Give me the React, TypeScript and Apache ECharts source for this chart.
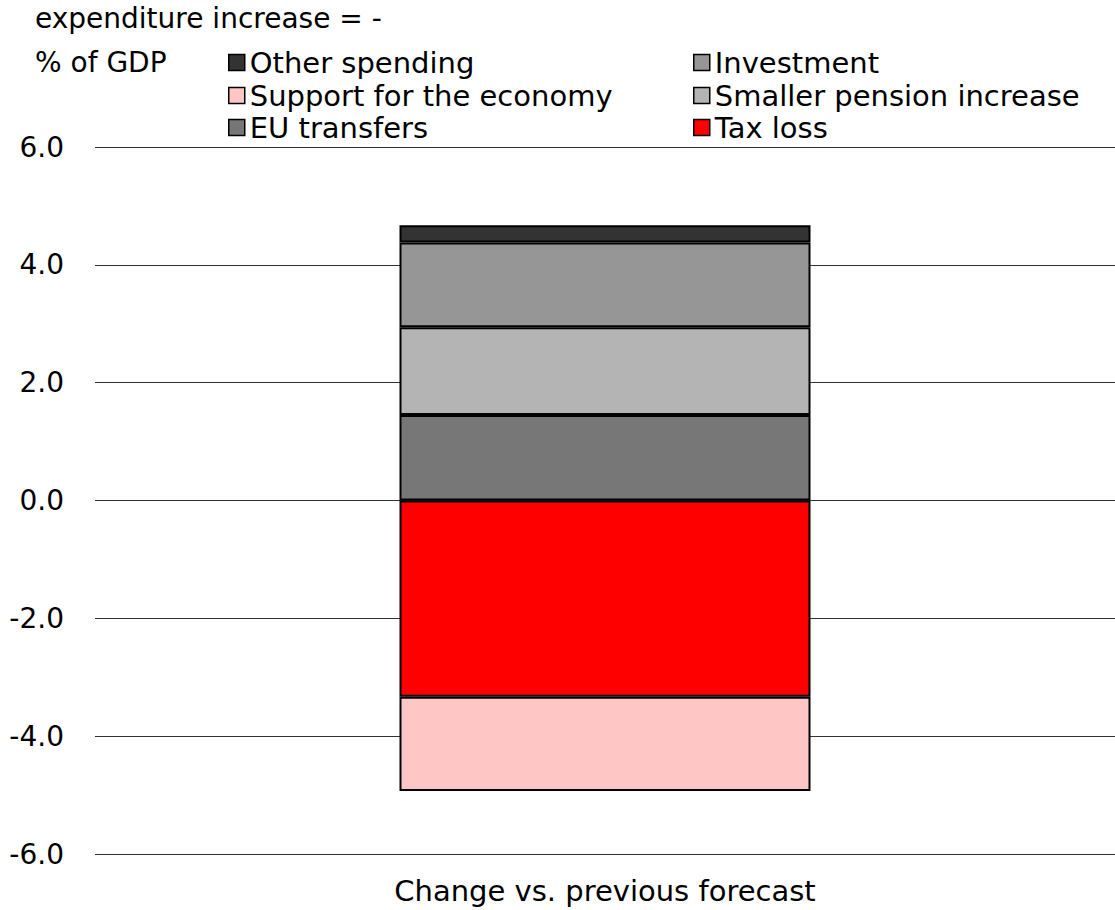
import React, { useEffect, useRef } from "react";
import * as echarts from "echarts";

const categories = ["Change vs. previous forecast"];
const euTransfers = [1.45];
const smallerPension = [1.49];
const investment = [1.44];
const otherSpending = [0.29];
const taxLoss = [-3.33];
const supportEconomy = [-1.6];
const yTicks = { min: -6, max: 6, interval: 2 };

const FONT = "DejaVu Sans";
const FS = 28;
const FS_L = 29;

export default function App() {
  const ref = useRef<HTMLDivElement>(null);
  useEffect(() => {
    if (!ref.current) return;
    const chart = echarts.init(ref.current, undefined, { renderer: "svg" });
    const barStyle = (color: string) => ({
      color,
      borderColor: "#000",
      borderWidth: 2,
    });
    const mk = (name: string, data: number[], color: string) => ({
      name,
      type: "bar",
      stack: "total",
      data,
      barWidth: 411,
      itemStyle: barStyle(color),
      emphasis: { disabled: true },
    });
    const legendItem = (name: string, left: number, cy: number) => ({
      data: [name],
      left,
      top: cy - 14,
      padding: 0,
      itemWidth: 16,
      itemHeight: 16,
      icon: "rect",
      itemStyle: { borderColor: "#000", borderWidth: 1.5 },
      textStyle: { fontFamily: FONT, fontSize: FS_L, color: "#000", lineHeight: 28 },
      selectedMode: false,
    });
    chart.setOption({
      animation: false,
      grid: { left: 95, right: -4, top: 147, bottom: 56, containLabel: false },
      legend: [
        legendItem("Other spending", 228, 62),
        legendItem("Investment", 693, 62),
        legendItem("Support for the economy", 228, 95),
        legendItem("Smaller pension increase", 693, 95),
        legendItem("EU transfers", 228, 127),
        legendItem("Tax loss", 693, 127),
      ],
      graphic: [
        {
          type: "text",
          left: 35,
          top: 4,
          style: { text: "expenditure increase = -", font: `${FS}px "${FONT}"`, fill: "#000" },
        },
        {
          type: "text",
          left: 35,
          top: 48,
          style: { text: "% of GDP", font: `${FS}px "${FONT}"`, fill: "#000" },
        },
      ],
      xAxis: {
        type: "category",
        data: categories,
        axisLine: { show: false },
        axisTick: { show: false },
        axisLabel: { fontFamily: FONT, fontSize: FS_L, color: "#000", margin: 22 },
      },
      yAxis: {
        type: "value",
        min: yTicks.min,
        max: yTicks.max,
        interval: yTicks.interval,
        axisLine: { show: false },
        axisTick: { show: false },
        axisLabel: {
          fontFamily: FONT,
          fontSize: FS,
          color: "#000",
          margin: 31,
          formatter: (v: number) => v.toFixed(1),
        },
        splitLine: { lineStyle: { color: "#333", width: 1.2 } },
      },
      series: [
        mk("EU transfers", euTransfers, "#777777"),
        mk("Smaller pension increase", smallerPension, "#b4b4b4"),
        mk("Investment", investment, "#969696"),
        mk("Other spending", otherSpending, "#333333"),
        mk("Tax loss", taxLoss, "#ff0000"),
        mk("Support for the economy", supportEconomy, "#ffc6c6"),
      ],
    });
    return () => chart.dispose();
  }, []);
  return (
    <div
      ref={ref}
      style={{ position: "fixed", left: 0, top: 0, width: 1115, height: 910, background: "#fff" }}
    />
  );
}
